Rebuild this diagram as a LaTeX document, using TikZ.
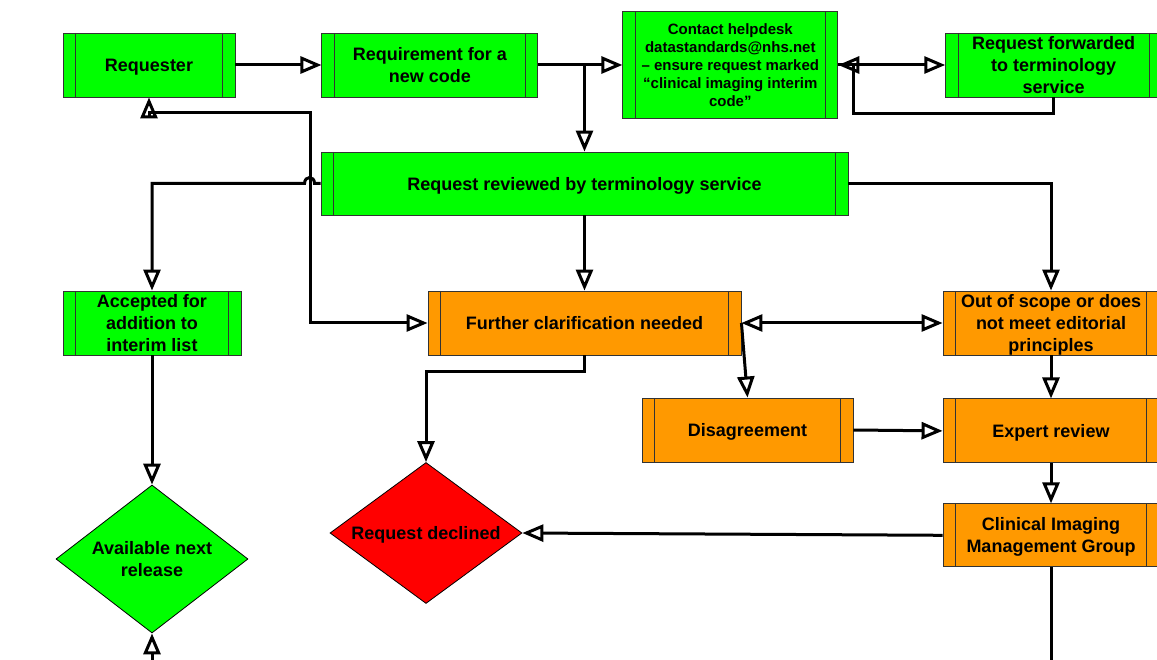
\documentclass[tikz,border=0pt]{standalone}
\usepackage{fontspec}
\setmainfont{Liberation Sans}
\usetikzlibrary{positioning, arrows.meta, shapes.geometric}

\definecolor{codegreen}{HTML}{00FF00}
\definecolor{reviewamber}{HTML}{FF9900}
\definecolor{declinered}{HTML}{FF0000}

\begin{document}
\begin{tikzpicture}[x=1pt, y=-1pt, ->, >={Triangle[open, length=21pt, width=17pt]}, line width=3pt,
    every node/.style={font=\bfseries\fontsize{18}{22}\selectfont},
    proc/.style={draw=black!80, line width=0.9pt, minimum width=216pt, minimum height=64pt, inner sep=0pt, align=center, text depth=0pt,
      path picture={\draw[-, black!80, line width=0.9pt]
        ([xshift=12.5pt]path picture bounding box.north west) -- ([xshift=12.5pt]path picture bounding box.south west)
        ([xshift=-12.5pt]path picture bounding box.north east) -- ([xshift=-12.5pt]path picture bounding box.south east);}},
    okbox/.style={proc, fill=codegreen},
    holdbox/.style={proc, fill=reviewamber},
    decision/.style={shape=diamond, draw=black, line width=0.8pt, inner sep=0pt, aspect=1.3, align=center, text depth=0pt,
      minimum width=192pt, minimum height=148pt}]
    \clip[-] (0,0) rectangle (1157,660);

    % request route
    \node[okbox, minimum width=172pt] (req) at (149,65) {Requester};
    \node[okbox] (newcode) [right=86pt of req] {Requirement for a\\new code};
    \node[okbox, minimum width=215pt, minimum height=107pt, font=\bfseries\fontsize{15}{18}\selectfont] (helpdesk) [right=84pt of newcode]
        {Contact helpdesk\\datastandards@nhs.net\\– ensure request marked\\“clinical imaging interim\\code”};
    \node[okbox] (fwd) [right=107pt of helpdesk] {Request forwarded\\to terminology\\service};
    \node[okbox, minimum width=527pt, minimum height=63pt] (reviewed) at (584.5,183.5) {Request reviewed by terminology service};
    % outcomes
    \node[okbox, minimum width=178pt] (accepted) at (152,323) {Accepted for\\addition to\\interim list};
    \node[holdbox, minimum width=313pt] (further) at (584.5,323) {Further clarification needed};
    \node[holdbox] (scope) at (1051,323) {Out of scope or does\\not meet editorial\\principles};
    \node[holdbox, minimum width=211pt] (disagree) at (747.5,430) {Disagreement};
    \node[holdbox] (expert) [below=43pt of scope] {Expert review};
    \node[holdbox, minimum height=63pt] (cimg) [below=40pt of expert] {Clinical Imaging\\Management Group};
    \node[decision, fill=declinered, minimum height=141pt] (declined) at (426,533) {Request declined};
    \node[decision, fill=codegreen] (avail) at (152,559) {Available next\\release};

    \coordinate (jog) at (310,113);
    \coordinate (cimgtail) at (1051,700);
    \coordinate (availtail) at (152,700);

    % top row
    \draw (req.east) -- (newcode.west);
    \draw (newcode.east) -- (helpdesk.west);
    \draw (reviewed.north |- newcode.east) -- (reviewed.north);
    \draw (helpdesk.east) -- (fwd.west);
    \draw (fwd.south) -- ++(0,16) -| ([xshift=15pt]helpdesk.east) -- (helpdesk.east);
    % review
    \draw (reviewed.west) -- ++(-6,0) .. controls +(0,-8) and +(0,-8) .. ++(-10,0) -| (accepted.north);
    \draw (reviewed.south) -- (further.north);
    \draw (reviewed.east) -| (scope.north);
    \draw[<->] (req.south) |- (jog) |- (further.west);
    % clarification
    \draw[<->] (further.east) -- (scope.west);
    \draw (further.east) -- (disagree.north);
    \draw (further.south) -- ++(0,16) -| (declined.north);
    \draw (disagree.east) -- (expert.west);
    \draw (scope.south) -- (expert.north);
    \draw (expert.south) -- (cimg.north);
    \draw (cimg.west) -- (declined.east);
    \draw[-] (cimg.south) -- (cimgtail);
    % interim list
    \draw (accepted.south) -- (avail.north);
    \draw (availtail) -- (avail.south);
\end{tikzpicture}
\end{document}
